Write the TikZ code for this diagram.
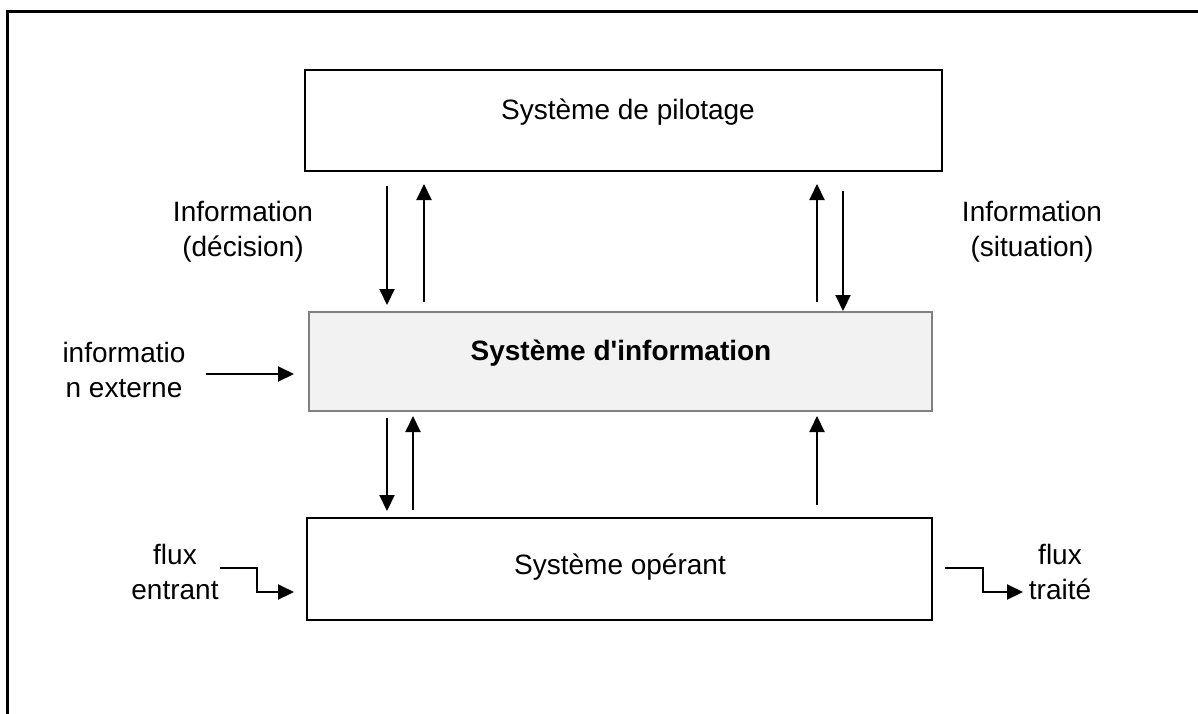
\documentclass[tikz,border=0pt]{standalone}
\usepackage{fontspec}
\setmainfont{Liberation Sans}
\newfontfamily\plainfont{Liberation Sans}
\usetikzlibrary{arrows.meta,calc}
\definecolor{sifill}{HTML}{F2F2F2}
\definecolor{siedge}{HTML}{808080}
\tikzset{
  box/.style={draw=black,line width=2pt,fill=white,inner sep=0pt},
  sibox/.style={draw=siedge,line width=1.6pt,fill=sifill,inner sep=0pt},
  txt/.style={font=\fontsize{28}{35}\selectfont,align=center,inner sep=0pt},
  arr/.style={line width=2pt,-{Triangle[length=16pt,width=15pt]}},
  flow/.style={line width=2pt,-{Triangle[length=16pt,width=15pt]}},
}
\begin{document}
\begin{tikzpicture}[x=1pt,y=-1pt]
\useasboundingbox (0,0) rectangle (1198,713);
\clip (0,0) rectangle (1198,713);
\fill[white] (0,0) rectangle (1198,713);
% outer frame
\draw[line width=3pt] (7.5,730) -- (7.5,11.5) -- (1215,11.5);
% boxes
\node[box,minimum width=637pt,minimum height=101pt] (pil) at (623.5,120.5) {};
\node[txt] (piltxt) at (628,112) {Système de pilotage};
\node[sibox,minimum width=623pt,minimum height=99pt] (si) at (620.5,361.5) {};
\node[txt,font=\plainfont\fontsize{28}{35}\selectfont\bfseries] (sitxt) at (621,353) {Système d'information};
\node[box,minimum width=625pt,minimum height=102pt] (op) at (619.5,569) {};
\node[txt] (optxt) at (620,567) {Système opérant};
% labels
\node[txt] (ldec) at (243,232) {Information\\(décision)};
\node[txt] (lsit) at (1032,232) {Information\\(situation)};
\node[txt] (lext) at (124,370) {informatio\\n externe};
\node[txt] (lent) at (175,572) {flux\\entrant};
\node[txt] (ltra) at (1060,572) {flux\\traité};
% arrow end coordinates
\coordinate (a1s) at (387,186); \coordinate (a1e) at (387,305);
\coordinate (a2s) at (424,302); \coordinate (a2e) at (424,184);
\coordinate (a3s) at (817,302); \coordinate (a3e) at (817,184);
\coordinate (a4s) at (843,191); \coordinate (a4e) at (843,311);
\coordinate (b1s) at (387,418); \coordinate (b1e) at (387,511);
\coordinate (b2s) at (413,510); \coordinate (b2e) at (413,416);
\coordinate (b3s) at (817,505); \coordinate (b3e) at (817,416);
\coordinate (exs) at (206,374); \coordinate (exe) at (294,374);
\coordinate (ens) at (220,568); \coordinate (ene) at (294,592);
\coordinate (trs) at (945,568); \coordinate (tre) at (1023,592);
\draw[arr] (a1s) -- (a1e);
\draw[arr] (a2s) -- (a2e);
\draw[arr] (a3s) -- (a3e);
\draw[arr] (a4s) -- (a4e);
\draw[arr] (b1s) -- (b1e);
\draw[arr] (b2s) -- (b2e);
\draw[arr] (b3s) -- (b3e);
\draw[arr] (exs) -- (exe);
\draw[flow] (ens) -- (257,568) -- (257,592) -- (ene);
\draw[flow] (trs) -- (983,568) -- (983,592) -- (tre);
\end{tikzpicture}
\end{document}
